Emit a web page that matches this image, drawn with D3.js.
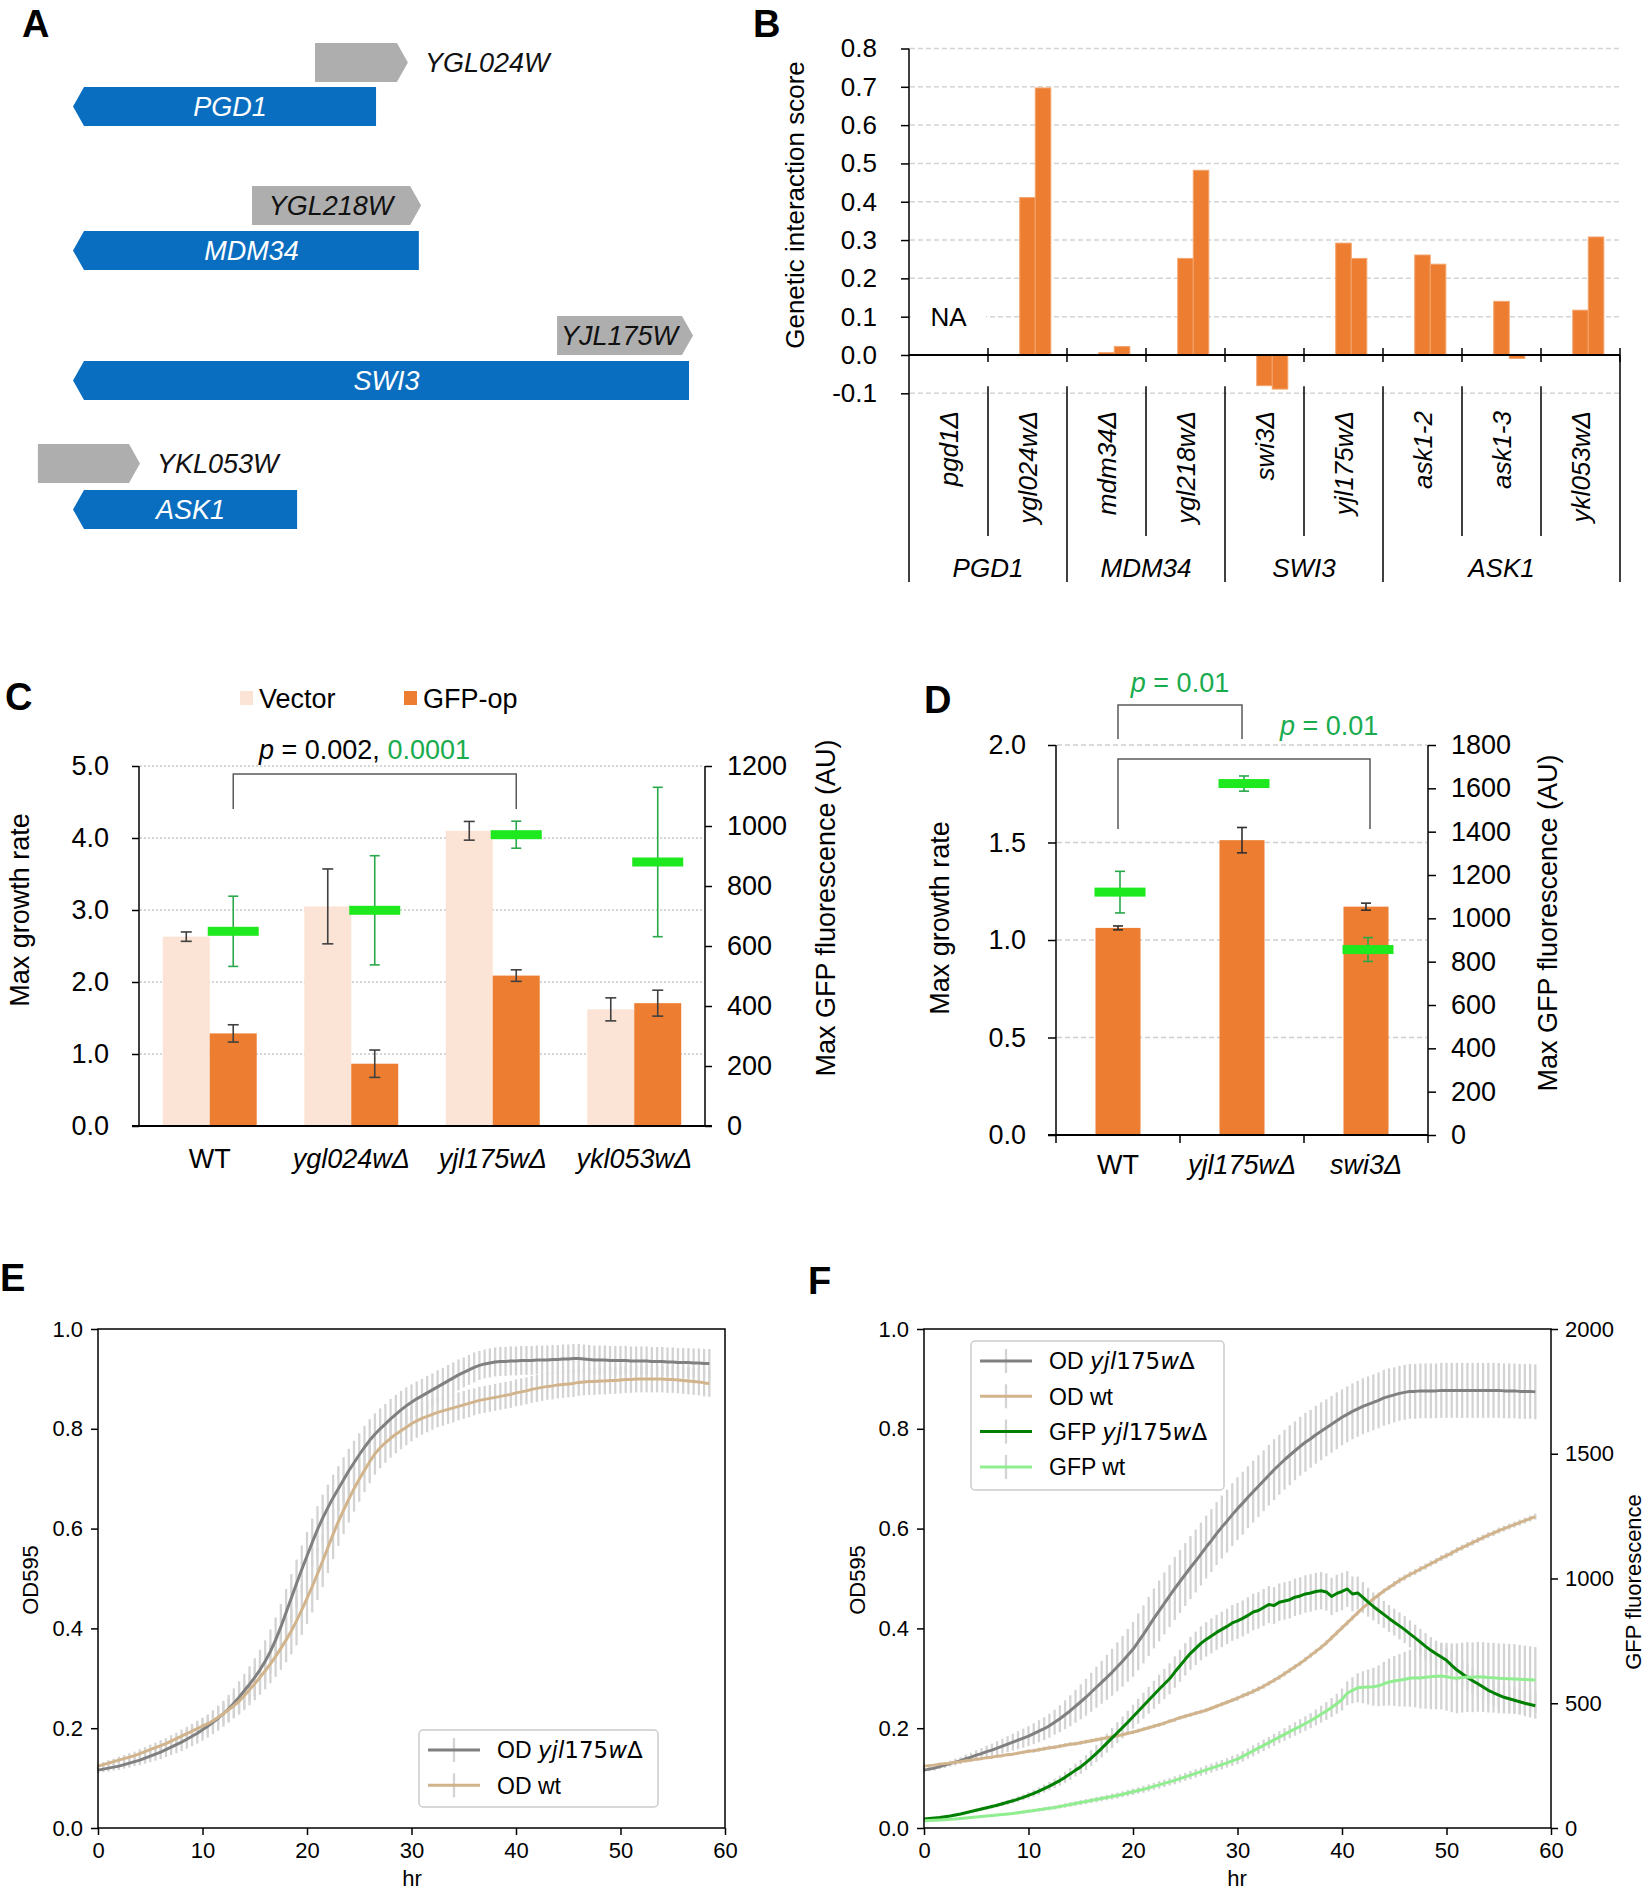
<!DOCTYPE html>
<html>
<head>
<meta charset="utf-8">
<title>YJL175W figure</title>
<script src="https://d3js.org/d3.v7.min.js"></script>
<style>
  body { margin: 0; background: #fff; }
  text { font-family: "Liberation Sans", Arial, Helvetica, sans-serif; }
  tspan.math { font-family: "DejaVu Sans", sans-serif; }
</style>
</head>
<body>
<div id="fig"></div>
<script>
// ---------- panel A : loci (kb from left end of locus) ----------
var locusGenes = ["PGD1", "MDM34", "SWI3", "ASK1"];
var locusStart = [0, 0, 0, 0];
var locusEnd = [1.217, 1.389, 2.474, 0.900];
var neighbourGenes = ["YGL024W", "YGL218W", "YJL175W", "YKL053W"];
var neighbourStart = [0.972, 0.719, 1.944, -0.141];
var neighbourEnd = [1.345, 1.398, 2.490, 0.269];

// ---------- panel B : genetic interaction scores ----------
var giMutants = ["pgd1Δ", "ygl024wΔ", "mdm34Δ", "ygl218wΔ", "swi3Δ", "yjl175wΔ", "ask1-2", "ask1-3", "ykl053wΔ"];
var giGroups = ["PGD1", "PGD1", "MDM34", "MDM34", "SWI3", "SWI3", "ASK1", "ASK1", "ASK1"];
var giScore1 = [null, 0.411, 0.006, 0.252, -0.080, 0.292, 0.261, 0.140, 0.117];
var giScore2 = [null, 0.697, 0.022, 0.482, -0.089, 0.252, 0.237, -0.009, 0.308];
var giTicks = [-0.1, 0.0, 0.1, 0.2, 0.3, 0.4, 0.5, 0.6, 0.7, 0.8];

// ---------- panel C ----------
var cStrains = ["WT", "ygl024wΔ", "yjl175wΔ", "ykl053wΔ"];
var cVector = [2.63, 3.05, 4.10, 1.62];
var cVectorErr = [0.065, 0.52, 0.13, 0.16];
var cGfpOp = [1.286, 0.865, 2.089, 1.706];
var cGfpOpErr = [0.12, 0.19, 0.08, 0.18];
var cFluor = [649, 719, 971, 880];
var cFluorErr = [117, 182, 45, 249];
var cGrowthTicks = [0, 1, 2, 3, 4, 5];
var cFluorTicks = [0, 200, 400, 600, 800, 1000, 1200];
var cP = ["0.002", "0.0001"];

// ---------- panel D ----------
var dStrains = ["WT", "yjl175wΔ", "swi3Δ"];
var dGrowth = [1.062, 1.512, 1.171];
var dGrowthErr = [0.010, 0.065, 0.018];
var dFluor = [1121, 1622, 856];
var dFluorErr = [96, 35, 55];
var dGrowthTicks = [0, 0.5, 1.0, 1.5, 2.0];
var dFluorTicks = [0, 200, 400, 600, 800, 1000, 1200, 1400, 1600, 1800];
var dP = ["0.01", "0.01"];

// ---------- panels E, F : growth curves (hours) ----------
var hours = [0,0.5,1,1.5,2,2.5,3,3.5,4,4.5,5,5.5,6,6.5,7,7.5,8,8.5,9,9.5,
  10,10.5,11,11.5,12,12.5,13,13.5,14,14.5,15,15.5,16,16.5,17,17.5,18,18.5,19,19.5,
  20,20.5,21,21.5,22,22.5,23,23.5,24,24.5,25,25.5,26,26.5,27,27.5,28,28.5,29,29.5,
  30,30.5,31,31.5,32,32.5,33,33.5,34,34.5,35,35.5,36,36.5,37,37.5,38,38.5,39,39.5,
  40,40.5,41,41.5,42,42.5,43,43.5,44,44.5,45,45.5,46,46.5,47,47.5,48,48.5,49,49.5,
  50,50.5,51,51.5,52,52.5,53,53.5,54,54.5,55,55.5,56,56.5,57,57.5,58,58.5];
var hourTicks = [0, 10, 20, 30, 40, 50, 60];
var odTicks = [0, 0.2, 0.4, 0.6, 0.8, 1.0];
var gfpTicks = [0, 500, 1000, 1500, 2000];

var odYjlE = [0.116,0.118,0.120,0.122,0.124,0.127,0.130,0.133,0.136,0.140,
  0.144,0.148,0.152,0.157,0.162,0.167,0.172,0.178,0.184,0.190,
  0.197,0.204,0.212,0.220,0.229,0.239,0.250,0.262,0.275,0.288,
  0.302,0.317,0.334,0.354,0.377,0.403,0.432,0.461,0.490,0.518,
  0.545,0.572,0.598,0.621,0.642,0.662,0.680,0.698,0.716,0.732,
  0.748,0.763,0.777,0.789,0.800,0.810,0.820,0.829,0.838,0.846,
  0.853,0.860,0.866,0.872,0.878,0.884,0.890,0.896,0.902,0.908,
  0.913,0.918,0.923,0.927,0.930,0.932,0.934,0.935,0.935,0.936,
  0.936,0.937,0.937,0.937,0.938,0.938,0.938,0.939,0.939,0.940,
  0.940,0.941,0.941,0.940,0.939,0.938,0.938,0.938,0.937,0.937,
  0.937,0.937,0.936,0.936,0.936,0.936,0.935,0.935,0.935,0.934,
  0.934,0.933,0.933,0.933,0.932,0.932,0.931,0.931];
var odYjlEErr = [0.006,0.006,0.007,0.007,0.008,0.008,0.009,0.009,0.010,0.011,
  0.012,0.013,0.014,0.015,0.016,0.017,0.018,0.019,0.020,0.021,
  0.022,0.023,0.024,0.025,0.026,0.028,0.030,0.032,0.034,0.036,
  0.038,0.040,0.042,0.044,0.045,0.046,0.047,0.048,0.048,0.048,
  0.048,0.048,0.047,0.047,0.046,0.046,0.045,0.045,0.044,0.044,
  0.043,0.043,0.042,0.042,0.041,0.040,0.040,0.039,0.038,0.037,
  0.036,0.035,0.034,0.034,0.033,0.033,0.032,0.032,0.031,0.031,
  0.030,0.030,0.030,0.029,0.029,0.029,0.029,0.029,0.029,0.029,
  0.029,0.029,0.029,0.029,0.029,0.029,0.029,0.029,0.029,0.029,
  0.029,0.029,0.029,0.029,0.029,0.029,0.029,0.029,0.029,0.029,
  0.029,0.029,0.029,0.029,0.029,0.029,0.029,0.029,0.029,0.029,
  0.029,0.029,0.029,0.029,0.029,0.029,0.029,0.029];
var odWtE = [0.124,0.127,0.130,0.133,0.136,0.139,0.142,0.145,0.149,0.153,
  0.157,0.161,0.165,0.169,0.174,0.179,0.184,0.189,0.194,0.199,
  0.204,0.209,0.215,0.222,0.229,0.237,0.245,0.254,0.265,0.277,
  0.289,0.302,0.315,0.329,0.344,0.360,0.377,0.395,0.415,0.437,
  0.460,0.484,0.509,0.535,0.562,0.589,0.614,0.637,0.659,0.680,
  0.699,0.717,0.734,0.750,0.762,0.772,0.781,0.789,0.796,0.803,
  0.810,0.816,0.821,0.825,0.829,0.833,0.836,0.839,0.842,0.845,
  0.848,0.851,0.854,0.857,0.859,0.861,0.863,0.865,0.867,0.869,
  0.872,0.874,0.876,0.879,0.881,0.883,0.885,0.886,0.888,0.889,
  0.890,0.891,0.893,0.894,0.895,0.895,0.896,0.896,0.897,0.897,
  0.898,0.899,0.899,0.900,0.900,0.900,0.900,0.900,0.900,0.899,
  0.899,0.898,0.897,0.896,0.895,0.894,0.892,0.891];
var odWtEErr = [0.005,0.005,0.006,0.006,0.007,0.007,0.008,0.008,0.009,0.009,
  0.010,0.010,0.011,0.011,0.012,0.012,0.013,0.014,0.015,0.016,
  0.017,0.018,0.019,0.020,0.021,0.023,0.025,0.027,0.029,0.031,
  0.033,0.035,0.037,0.039,0.041,0.043,0.045,0.047,0.049,0.050,
  0.051,0.052,0.052,0.052,0.051,0.050,0.049,0.048,0.047,0.046,
  0.045,0.044,0.043,0.042,0.041,0.040,0.039,0.038,0.037,0.036,
  0.035,0.034,0.033,0.032,0.031,0.030,0.030,0.029,0.029,0.028,
  0.028,0.028,0.027,0.027,0.027,0.027,0.027,0.027,0.027,0.027,
  0.027,0.027,0.027,0.027,0.027,0.027,0.027,0.027,0.027,0.027,
  0.027,0.027,0.027,0.027,0.027,0.027,0.027,0.027,0.027,0.027,
  0.027,0.027,0.027,0.027,0.027,0.027,0.027,0.027,0.027,0.027,
  0.027,0.027,0.027,0.027,0.027,0.027,0.027,0.027];

var odYjlF = [0.116,0.118,0.120,0.123,0.126,0.129,0.132,0.135,0.139,0.142,
  0.146,0.149,0.153,0.156,0.160,0.164,0.168,0.172,0.176,0.180,
  0.184,0.189,0.194,0.199,0.205,0.212,0.219,0.227,0.235,0.244,
  0.253,0.262,0.272,0.282,0.292,0.302,0.312,0.323,0.334,0.346,
  0.358,0.373,0.388,0.404,0.420,0.435,0.450,0.465,0.480,0.494,
  0.508,0.522,0.535,0.549,0.563,0.576,0.590,0.603,0.615,0.628,
  0.640,0.651,0.663,0.674,0.685,0.696,0.707,0.718,0.728,0.738,
  0.747,0.756,0.765,0.773,0.780,0.788,0.795,0.802,0.809,0.816,
  0.823,0.829,0.835,0.840,0.845,0.849,0.853,0.857,0.862,0.865,
  0.868,0.871,0.873,0.875,0.875,0.876,0.876,0.876,0.876,0.877,
  0.877,0.877,0.877,0.877,0.877,0.877,0.877,0.877,0.877,0.877,
  0.877,0.876,0.876,0.876,0.875,0.875,0.875,0.874];
var odYjlFErr = [0.004,0.004,0.005,0.005,0.006,0.006,0.007,0.007,0.008,0.009,
  0.010,0.011,0.012,0.013,0.014,0.015,0.016,0.017,0.018,0.019,
  0.020,0.021,0.022,0.023,0.024,0.025,0.027,0.029,0.031,0.033,
  0.035,0.037,0.039,0.041,0.043,0.045,0.047,0.049,0.051,0.053,
  0.055,0.057,0.058,0.059,0.060,0.061,0.062,0.062,0.063,0.063,
  0.063,0.063,0.063,0.063,0.063,0.063,0.063,0.063,0.063,0.063,
  0.063,0.063,0.062,0.062,0.062,0.061,0.061,0.061,0.060,0.060,
  0.060,0.059,0.059,0.059,0.058,0.058,0.058,0.057,0.057,0.057,
  0.056,0.056,0.056,0.056,0.056,0.056,0.056,0.056,0.056,0.056,
  0.055,0.055,0.055,0.055,0.055,0.055,0.055,0.055,0.055,0.055,
  0.055,0.055,0.055,0.055,0.055,0.055,0.055,0.055,0.055,0.055,
  0.055,0.055,0.055,0.055,0.055,0.055,0.055,0.055];
var odWtF = [0.124,0.125,0.126,0.128,0.129,0.130,0.132,0.133,0.135,0.136,
  0.138,0.139,0.141,0.142,0.144,0.145,0.147,0.148,0.150,0.152,
  0.154,0.155,0.157,0.159,0.161,0.162,0.164,0.166,0.168,0.169,
  0.171,0.173,0.175,0.177,0.179,0.181,0.183,0.185,0.187,0.190,
  0.192,0.195,0.198,0.201,0.204,0.207,0.210,0.214,0.217,0.221,
  0.224,0.227,0.230,0.233,0.236,0.240,0.244,0.248,0.252,0.256,
  0.260,0.265,0.269,0.274,0.279,0.284,0.290,0.296,0.302,0.309,
  0.316,0.323,0.330,0.338,0.346,0.354,0.362,0.371,0.381,0.391,
  0.401,0.411,0.421,0.431,0.441,0.450,0.459,0.467,0.475,0.482,
  0.489,0.496,0.502,0.508,0.513,0.519,0.524,0.530,0.535,0.541,
  0.546,0.551,0.557,0.562,0.567,0.572,0.577,0.582,0.587,0.591,
  0.596,0.600,0.604,0.608,0.612,0.616,0.620,0.624];
var odWtFErr = [0.003,0.003,0.003,0.003,0.003,0.003,0.003,0.003,0.003,0.003,
  0.003,0.003,0.003,0.003,0.003,0.003,0.003,0.003,0.003,0.003,
  0.004,0.004,0.004,0.004,0.004,0.004,0.004,0.004,0.004,0.004,
  0.004,0.004,0.004,0.004,0.004,0.004,0.004,0.004,0.004,0.004,
  0.004,0.004,0.004,0.004,0.004,0.004,0.004,0.004,0.004,0.004,
  0.004,0.004,0.004,0.004,0.004,0.004,0.004,0.004,0.004,0.004,
  0.005,0.005,0.005,0.005,0.005,0.005,0.005,0.005,0.005,0.005,
  0.005,0.005,0.005,0.005,0.005,0.005,0.005,0.005,0.005,0.005,
  0.005,0.005,0.005,0.005,0.005,0.005,0.005,0.005,0.005,0.005,
  0.006,0.006,0.006,0.006,0.006,0.006,0.006,0.006,0.006,0.006,
  0.006,0.006,0.006,0.006,0.006,0.006,0.006,0.006,0.006,0.006,
  0.006,0.006,0.006,0.006,0.006,0.006,0.006,0.006];
var gfpYjlF = [36,38,40,42,45,48,52,56,61,66,
  71,76,81,86,91,97,103,109,116,123,
  131,139,148,158,168,179,190,203,217,232,
  245,262,280,299,319,340,361,382,403,424,
  446,468,490,512,534,556,577,598,625,650,
  676,700,720,740,756,770,784,796,808,822,
  830,840,852,866,872,884,896,892,905,910,
  915,925,930,938,942,948,951,946,928,940,
  948,958,938,942,924,905,888,872,856,840,
  825,810,795,778,762,745,728,712,698,685,
  672,652,633,618,603,590,578,565,552,542,
  533,524,518,512,506,500,495,490];
var gfpYjlFErr = [3,3,3,4,4,4,5,5,5,6,
  6,7,7,8,8,9,10,10,11,12,
  13,14,15,16,17,18,20,22,24,26,
  28,30,32,34,36,38,40,42,44,46,
  48,50,52,54,56,58,60,62,63,64,
  65,66,67,68,69,70,70,71,71,72,
  72,72,73,73,73,74,74,74,75,75,
  75,75,75,75,75,75,75,75,75,75,
  75,72,70,66,62,58,56,55,54,54,
  54,54,54,54,53,53,53,53,53,53,
  52,52,52,52,52,52,52,52,52,52,
  52,52,52,52,52,52,52,52];
var gfpWtF = [29,30,31,32,33,35,36,38,40,42,
  44,46,48,50,52,54,56,58,61,64,
  67,70,73,76,79,82,86,90,94,98,
  102,106,110,114,118,122,126,130,135,140,
  145,150,155,161,167,173,179,185,191,198,
  205,212,219,226,233,240,247,254,261,269,
  276,287,298,309,320,331,342,353,364,375,
  386,397,408,419,430,443,456,469,483,498,
  515,540,552,562,564,565,566,570,578,585,
  589,592,596,600,602,601,604,606,608,609,
  606,602,600,603,605,604,606,605,603,602,
  600,599,598,597,596,595,594,593];
var gfpWtFErr = [2,2,2,2,3,3,3,3,3,4,
  4,4,4,5,5,5,5,6,6,6,
  6,7,7,7,8,8,8,9,9,9,
  10,10,10,11,11,11,12,12,12,13,
  13,13,14,14,14,15,15,15,16,16,
  16,17,17,17,18,18,18,19,19,20,
  20,21,21,22,22,23,23,24,24,25,
  26,27,28,29,30,32,34,36,38,40,
  44,48,52,58,64,70,76,82,88,94,
  100,105,110,114,118,122,126,130,132,134,
  136,138,140,140,140,140,140,140,140,140,
  140,140,140,140,138,136,134,132];

// ---------- colours ----------
var blueGene = "#0a6ec0", greyGene = "#aeaeae";
var orange = "#ed7d31", peach = "#fbe4d5";
var markGreen = "#1ee81e", errGreen = "#2aa84a", pGreen = "#1aab4e";
var fmt1 = function (d) { return d.toFixed(1); };
var fmtInt = function (d) { return String(d); };

var svg = d3.select("#fig").append("svg")
  .attr("width", 1645).attr("height", 1891)
  .style("background", "#fff");

function letter(x, y, s) {
  svg.append("text").attr("x", x).attr("y", y)
    .attr("font-size", 38).attr("font-weight", "bold").text(s);
}
function styleAxis(g, size) {
  g.attr("font-family", null);
  g.select(".domain").remove();
  g.selectAll(".tick line").attr("stroke", "#000").attr("stroke-width", 1.5);
  g.selectAll(".tick text").attr("font-size", size).attr("fill", "#000");
}
function vLabel(g, x, y, s, size) {
  g.append("text").attr("transform", "translate(" + x + "," + y + ") rotate(-90)")
    .attr("text-anchor", "middle").attr("dy", "0.35em")
    .attr("font-size", size).text(s);
}
function isGene(s) { return s !== "WT"; }
// matplotlib mathtext style: letters italic, digits and Δ upright
function mathParts(s) {
  var i = s.indexOf(" ");
  var pre = s.slice(0, i + 1), gene = s.slice(i + 1);
  if (!/\d/.test(gene)) return [[s, false, false]];
  var out = [[pre, false, false]];
  gene.split("").forEach(function (ch) { out.push([ch, /[a-z]/.test(ch), true]); });
  return out;
}

// ================= A =================
letter(22, 37, "A");
var gA = svg.append("g");
var xA = d3.scaleLinear().domain([0, 2.5]).range([73, 695.5]);
var greyTop = [43, 186, 316, 444];
var blueTop = [87, 231, 361, 490];
var arrowH = 39, tip = 11;

locusGenes.forEach(function (name, i) {
  var x0 = xA(locusStart[i]), x1 = xA(locusEnd[i]), y0 = blueTop[i], y1 = y0 + arrowH;
  gA.append("path")
    .attr("d", d3.line()([[x0, (y0 + y1) / 2], [x0 + tip, y0], [x1, y0], [x1, y1], [x0 + tip, y1]]) + "Z")
    .attr("fill", blueGene);
  gA.append("text").attr("x", (x0 + tip + x1) / 2).attr("y", (y0 + y1) / 2).attr("dy", "0.36em")
    .attr("text-anchor", "middle").attr("font-size", 27).attr("font-style", "italic")
    .attr("fill", "#fff").text(name);

  var n0 = xA(neighbourStart[i]), n1 = xA(neighbourEnd[i]), t0 = greyTop[i], t1 = t0 + arrowH;
  gA.append("path")
    .attr("d", d3.line()([[n0, t0], [n1 - tip, t0], [n1, (t0 + t1) / 2], [n1 - tip, t1], [n0, t1]]) + "Z")
    .attr("fill", greyGene);
  var lab = gA.append("text").attr("y", (t0 + t1) / 2).attr("dy", "0.36em")
    .attr("font-size", 27).attr("font-style", "italic").attr("fill", "#111")
    .text(neighbourGenes[i]);
  var w = lab.node().getComputedTextLength();
  if (w + 6 < n1 - tip - n0) {
    lab.attr("x", (n0 + n1 - tip) / 2).attr("text-anchor", "middle");
  } else {
    lab.attr("x", n1 + 17);
  }
});

// ================= B =================
letter(753, 37, "B");
var gB = svg.append("g");
var xB = d3.scaleBand().domain(giMutants).range([909, 1620]).paddingInner(0.41).paddingOuter(0.205);
var xB1 = d3.scaleBand().domain([0, 1, 2]).range([0, xB.bandwidth()]);
var yB = d3.scaleLinear().domain([-0.1, 0.8]).range([393.3, 48.5]);
var bBottom = 582, bLabelTop = 411;
function bCentre(m) { return xB(m) + xB.bandwidth() / 2; }

giTicks.forEach(function (t) {
  if (t === 0) return;
  gB.append("line").attr("x1", 910).attr("x2", 1620).attr("y1", yB(t)).attr("y2", yB(t))
    .attr("stroke", "#d4d4d4").attr("stroke-width", 1.5).attr("stroke-dasharray", "5,3");
});

var axB = gB.append("g").attr("transform", "translate(909,0)")
  .call(d3.axisLeft(yB).tickValues(giTicks).tickSize(8).tickPadding(24).tickFormat(fmt1));
styleAxis(axB, 26);

[giScore1, giScore2].forEach(function (series, k) {
  gB.selectAll(null).data(giMutants.filter(function (m, i) { return series[i] !== null; }))
    .join("rect")
    .attr("x", function (m) { return xB(m) + xB1(k + 1); })
    .attr("width", xB1.bandwidth())
    .attr("y", function (m) { return yB(Math.max(0, series[giMutants.indexOf(m)])); })
    .attr("height", function (m) { return Math.abs(yB(series[giMutants.indexOf(m)]) - yB(0)); })
    .attr("fill", orange).attr("stroke", "#f3a46c").attr("stroke-width", 1);
});

// NA for missing scores
giMutants.forEach(function (m, i) {
  if (giScore1[i] !== null) return;
  gB.append("rect").attr("x", bCentre(m) - xB.step() / 2 + 2).attr("width", xB.step() - 4)
    .attr("y", yB(0.1) - 4).attr("height", 8).attr("fill", "#fff");
  gB.append("text").attr("x", bCentre(m)).attr("y", yB(0.1)).attr("dy", "0.36em")
    .attr("text-anchor", "middle").attr("font-size", 26).text("NA");
});

gB.append("line").attr("x1", 909).attr("x2", 909).attr("y1", yB(0.8)).attr("y2", bBottom)
  .attr("stroke", "#000").attr("stroke-width", 1.5);
gB.append("line").attr("x1", 909).attr("x2", 1620).attr("y1", yB(0)).attr("y2", yB(0))
  .attr("stroke", "#000").attr("stroke-width", 2);
giMutants.forEach(function (m, i) {
  var bx = bCentre(m) + xB.step() / 2;
  gB.append("line").attr("x1", bx).attr("x2", bx).attr("y1", yB(0) - 7).attr("y2", yB(0) + 7)
    .attr("stroke", "#000").attr("stroke-width", 1.5);
  var last = i === giMutants.length - 1;
  var groupEnd = last || giGroups[i + 1] !== giGroups[i];
  gB.append("line").attr("x1", bx).attr("x2", bx)
    .attr("y1", last ? yB(0) : yB(-0.1) - 7).attr("y2", groupEnd ? bBottom : 536)
    .attr("stroke", "#000").attr("stroke-width", 1.5);
  gB.append("text")
    .attr("transform", "translate(" + bCentre(m) + "," + bLabelTop + ") rotate(-90)")
    .attr("text-anchor", "end").attr("dy", "0.36em").attr("font-size", 26)
    .attr("font-style", "italic").text(m);
});
Array.from(new Set(giGroups)).forEach(function (grp) {
  var members = giMutants.filter(function (m, i) { return giGroups[i] === grp; });
  var cx = (bCentre(members[0]) + bCentre(members[members.length - 1])) / 2;
  gB.append("text").attr("x", cx).attr("y", 568).attr("dy", "0.36em")
    .attr("text-anchor", "middle").attr("font-size", 26).attr("font-style", "italic").text(grp);
});
vLabel(gB, 795, 205, "Genetic interaction score", 26);

// ================= C =================
letter(5, 710, "C");
var gC = svg.append("g");
var xC = d3.scaleBand().domain(cStrains).range([139, 705]).paddingInner(0.336).paddingOuter(0.168);
var xC1 = d3.scaleBand().domain(["Vector", "GFP-op"]).range([0, xC.bandwidth()]);
var yC = d3.scaleLinear().domain([0, 5]).range([1126, 766]);
var yC2 = d3.scaleLinear().domain([0, 1200]).range([1126, 766]);

cGrowthTicks.forEach(function (t) {
  if (t === 0) return;
  gC.append("line").attr("x1", 140).attr("x2", 704).attr("y1", yC(t)).attr("y2", yC(t))
    .attr("stroke", "#c9c9c9").attr("stroke-width", 1.5).attr("stroke-dasharray", "2,2");
});
var axC = gC.append("g").attr("transform", "translate(139,0)")
  .call(d3.axisLeft(yC).tickValues(cGrowthTicks).tickSize(7).tickPadding(23).tickFormat(fmt1));
styleAxis(axC, 27);
var axC2 = gC.append("g").attr("transform", "translate(705,0)")
  .call(d3.axisRight(yC2).tickValues(cFluorTicks).tickSize(7).tickPadding(15).tickFormat(fmtInt));
styleAxis(axC2, 27);

function cX(s, series) { return xC(s) + xC1(series) + xC1.bandwidth() / 2; }
function errBar(g, x, lo, hi, cap, colour) {
  g.append("line").attr("x1", x).attr("x2", x).attr("y1", lo).attr("y2", hi)
    .attr("stroke", colour).attr("stroke-width", 1.6);
  [lo, hi].forEach(function (yy) {
    g.append("line").attr("x1", x - cap / 2).attr("x2", x + cap / 2).attr("y1", yy).attr("y2", yy)
      .attr("stroke", colour).attr("stroke-width", 1.6);
  });
}
gC.selectAll(null).data(cStrains).join("rect")
  .attr("x", function (s) { return xC(s) + xC1("Vector"); }).attr("width", xC1.bandwidth())
  .attr("y", function (s, i) { return yC(cVector[i]); })
  .attr("height", function (s, i) { return yC(0) - yC(cVector[i]); })
  .attr("fill", peach);
gC.selectAll(null).data(cStrains).join("rect")
  .attr("x", function (s) { return xC(s) + xC1("GFP-op"); }).attr("width", xC1.bandwidth())
  .attr("y", function (s, i) { return yC(cGfpOp[i]); })
  .attr("height", function (s, i) { return yC(0) - yC(cGfpOp[i]); })
  .attr("fill", orange);
cStrains.forEach(function (s, i) {
  errBar(gC, cX(s, "Vector"), yC(cVector[i] - cVectorErr[i]), yC(cVector[i] + cVectorErr[i]), 11, "#404040");
  errBar(gC, cX(s, "GFP-op"), yC(cGfpOp[i] - cGfpOpErr[i]), yC(cGfpOp[i] + cGfpOpErr[i]), 11, "#404040");
  errBar(gC, cX(s, "GFP-op"), yC2(cFluor[i] - cFluorErr[i]), yC2(cFluor[i] + cFluorErr[i]), 10, errGreen);
  gC.append("rect").attr("x", cX(s, "GFP-op") - 25.5).attr("width", 51)
    .attr("y", yC2(cFluor[i]) - 4.5).attr("height", 9).attr("fill", markGreen);
});
gC.append("line").attr("x1", 132).attr("x2", 712).attr("y1", 1126).attr("y2", 1126)
  .attr("stroke", "#000").attr("stroke-width", 2);
[139, 705].forEach(function (ax) {
  gC.append("line").attr("x1", ax).attr("x2", ax).attr("y1", 766).attr("y2", 1126)
    .attr("stroke", "#000").attr("stroke-width", 1.5);
});
cStrains.forEach(function (s) {
  gC.append("text").attr("x", xC(s) + xC.bandwidth() / 2).attr("y", 1158).attr("dy", "0.36em")
    .attr("text-anchor", "middle").attr("font-size", 27)
    .attr("font-style", isGene(s) ? "italic" : null).text(s);
});
// bracket WT vs yjl175wΔ
var cb0 = cX("WT", "GFP-op"), cb1 = cX("yjl175wΔ", "GFP-op");
gC.append("path").attr("d", d3.line()([[cb0, 809], [cb0, 774], [cb1, 774], [cb1, 809]]))
  .attr("fill", "none").attr("stroke", "#5a5a5a").attr("stroke-width", 1.5);
var pC = gC.append("text").attr("x", 259).attr("y", 749).attr("dy", "0.36em").attr("font-size", 27);
pC.append("tspan").attr("font-style", "italic").text("p");
pC.append("tspan").text(" = " + cP[0] + ", ");
pC.append("tspan").attr("fill", pGreen).text(cP[1]);
// legend
[["Vector", peach, 240], ["GFP-op", orange, 404]].forEach(function (l) {
  gC.append("rect").attr("x", l[2]).attr("y", 691).attr("width", 13).attr("height", 14).attr("fill", l[1]);
  gC.append("text").attr("x", l[2] + 19).attr("y", 698).attr("dy", "0.36em").attr("font-size", 27).text(l[0]);
});
vLabel(gC, 20, 910, "Max growth rate", 27);
vLabel(gC, 826, 908, "Max GFP fluorescence (AU)", 27);

// ================= D =================
letter(924, 713, "D");
var gD = svg.append("g");
var xD = d3.scaleBand().domain(dStrains).range([1056, 1428]).paddingInner(0.637).paddingOuter(0.3185);
var yD = d3.scaleLinear().domain([0, 2]).range([1135, 745]);
var yD2 = d3.scaleLinear().domain([0, 1800]).range([1135, 745]);
function dX(s) { return xD(s) + xD.bandwidth() / 2; }

dGrowthTicks.forEach(function (t) {
  if (t === 0) return;
  gD.append("line").attr("x1", 1057).attr("x2", 1427).attr("y1", yD(t)).attr("y2", yD(t))
    .attr("stroke", "#cfcfcf").attr("stroke-width", 1.5).attr("stroke-dasharray", "5,3");
});
var axD = gD.append("g").attr("transform", "translate(1056,0)")
  .call(d3.axisLeft(yD).tickValues(dGrowthTicks).tickSize(8).tickPadding(22).tickFormat(fmt1));
styleAxis(axD, 27);
var axD2 = gD.append("g").attr("transform", "translate(1428,0)")
  .call(d3.axisRight(yD2).tickValues(dFluorTicks).tickSize(8).tickPadding(15).tickFormat(fmtInt));
styleAxis(axD2, 27);

gD.selectAll(null).data(dStrains).join("rect")
  .attr("x", function (s) { return xD(s); }).attr("width", xD.bandwidth())
  .attr("y", function (s, i) { return yD(dGrowth[i]); })
  .attr("height", function (s, i) { return yD(0) - yD(dGrowth[i]); })
  .attr("fill", orange);
dStrains.forEach(function (s, i) {
  errBar(gD, dX(s), yD(dGrowth[i] - dGrowthErr[i]), yD(dGrowth[i] + dGrowthErr[i]), 10, "#303030");
  errBar(gD, dX(s) + 2, yD2(dFluor[i] - dFluorErr[i]), yD2(dFluor[i] + dFluorErr[i]), 10, errGreen);
  gD.append("rect").attr("x", dX(s) + 2 - 25.5).attr("width", 51)
    .attr("y", yD2(dFluor[i]) - 4.5).attr("height", 9).attr("fill", markGreen);
  gD.append("text").attr("x", dX(s)).attr("y", 1164).attr("dy", "0.36em")
    .attr("text-anchor", "middle").attr("font-size", 27)
    .attr("font-style", isGene(s) ? "italic" : null).text(s);
});
gD.append("line").attr("x1", 1048).attr("x2", 1428).attr("y1", 1135).attr("y2", 1135)
  .attr("stroke", "#000").attr("stroke-width", 2);
[1056, 1428].forEach(function (ax) {
  gD.append("line").attr("x1", ax).attr("x2", ax).attr("y1", 745).attr("y2", 1135)
    .attr("stroke", "#000").attr("stroke-width", 1.5);
});
dStrains.concat([null]).forEach(function (s, i) {
  var bx = 1056 + i * xD.step();
  gD.append("line").attr("x1", bx).attr("x2", bx).attr("y1", 1135).attr("y2", 1143)
    .attr("stroke", "#000").attr("stroke-width", 1.5);
});
var db0 = dX("WT"), db1 = dX("yjl175wΔ"), db2 = dX("swi3Δ") + 4;
gD.append("path").attr("d", d3.line()([[db0, 739], [db0, 705], [db1, 705], [db1, 739]]))
  .attr("fill", "none").attr("stroke", "#5a5a5a").attr("stroke-width", 1.5);
gD.append("path").attr("d", d3.line()([[db0, 829], [db0, 759], [db2, 759], [db2, 829]]))
  .attr("fill", "none").attr("stroke", "#5a5a5a").attr("stroke-width", 1.5);
[[(db0 + db1) / 2, 682, "middle"], [1280, 725, "start"]].forEach(function (p, k) {
  var t = gD.append("text").attr("x", p[0]).attr("y", p[1]).attr("dy", "0.36em")
    .attr("text-anchor", p[2]).attr("font-size", 27).attr("fill", pGreen);
  t.append("tspan").attr("font-style", "italic").text("p");
  t.append("tspan").text(" = " + dP[k]);
});
vLabel(gD, 940, 918, "Max growth rate", 27);
vLabel(gD, 1548, 923, "Max GFP fluorescence (AU)", 27);

// ================= E, F =================
function growthPanel(x, yL, seriesList, legend) {
  var g = svg.append("g");
  var x0 = x.range()[0], x1 = x.range()[1], yb = yL.range()[0], yt = yL.range()[1];
  seriesList.forEach(function (s) {
    g.append("g").selectAll("line").data(hours).join("line")
      .attr("x1", function (h) { return x(h); }).attr("x2", function (h) { return x(h); })
      .attr("y1", function (h, i) { return s.y(s.v[i] - s.e[i]); })
      .attr("y2", function (h, i) { return s.y(s.v[i] + s.e[i]); })
      .attr("stroke", "#d3d3d3").attr("stroke-width", 2.3);
  });
  seriesList.forEach(function (s) {
    g.append("path").datum(hours)
      .attr("d", d3.line().x(function (h) { return x(h); }).y(function (h, i) { return s.y(s.v[i]); }))
      .attr("fill", "none").attr("stroke", s.c).attr("stroke-width", 3).attr("stroke-linejoin", "round");
  });
  g.append("rect").attr("x", x0).attr("y", yt).attr("width", x1 - x0).attr("height", yb - yt)
    .attr("fill", "none").attr("stroke", "#000").attr("stroke-width", 1.5);
  var ax = g.append("g").attr("transform", "translate(0," + yb + ")")
    .call(d3.axisBottom(x).tickValues(hourTicks).tickSize(7).tickPadding(7));
  styleAxis(ax, 22);
  var ay = g.append("g").attr("transform", "translate(" + x0 + ",0)")
    .call(d3.axisLeft(yL).tickValues(odTicks).tickSize(7).tickPadding(8).tickFormat(fmt1));
  styleAxis(ay, 22);
  // legend
  var lg = g.append("g");
  lg.append("rect").attr("x", legend.x).attr("y", legend.y).attr("width", legend.w).attr("height", legend.h)
    .attr("rx", 4).attr("fill", "#fff").attr("fill-opacity", 0.8)
    .attr("stroke", "#cccccc").attr("stroke-width", 1.5);
  seriesList.forEach(function (s, i) {
    var ly = legend.y + 20 + i * 35.3, lx = legend.x + 9;
    lg.append("line").attr("x1", lx + 26).attr("x2", lx + 26).attr("y1", ly - 12).attr("y2", ly + 12)
      .attr("stroke", "#d3d3d3").attr("stroke-width", 2.3);
    lg.append("line").attr("x1", lx).attr("x2", lx + 52).attr("y1", ly).attr("y2", ly)
      .attr("stroke", s.c).attr("stroke-width", 3);
    var t = lg.append("text").attr("x", lx + 69).attr("y", ly).attr("dy", "0.36em").attr("font-size", 23);
    mathParts(s.name).forEach(function (p) {
      t.append("tspan").attr("class", p[2] ? "math" : null)
        .attr("font-style", p[1] ? "italic" : null).text(p[0]);
    });
  });
  return g;
}

letter(0, 1291, "E");
var xE = d3.scaleLinear().domain([0, 60]).range([98, 725]);
var yE = d3.scaleLinear().domain([0, 1]).range([1828, 1329]);
var gE = growthPanel(xE, yE, [
  { name: "OD yjl175wΔ", v: odYjlE, e: odYjlEErr, c: "#808080", y: yE },
  { name: "OD wt", v: odWtE, e: odWtEErr, c: "#d2b48c", y: yE }
], { x: 419, y: 1730, w: 239, h: 77 });
vLabel(gE, 30, 1580, "OD595", 22);
gE.append("text").attr("x", 412).attr("y", 1878).attr("dy", "0.36em")
  .attr("text-anchor", "middle").attr("font-size", 22).text("hr");

letter(808, 1294, "F");
var xF = d3.scaleLinear().domain([0, 60]).range([924, 1551]);
var yF = d3.scaleLinear().domain([0, 1]).range([1828, 1329]);
var yF2 = d3.scaleLinear().domain([0, 2000]).range([1828, 1329]);
var gF = growthPanel(xF, yF, [
  { name: "OD yjl175wΔ", v: odYjlF, e: odYjlFErr, c: "#808080", y: yF },
  { name: "OD wt", v: odWtF, e: odWtFErr, c: "#d2b48c", y: yF },
  { name: "GFP yjl175wΔ", v: gfpYjlF, e: gfpYjlFErr, c: "#008000", y: yF2 },
  { name: "GFP wt", v: gfpWtF, e: gfpWtFErr, c: "#90ee90", y: yF2 }
], { x: 971, y: 1341, w: 253, h: 149 });
var axF2 = gF.append("g").attr("transform", "translate(1551,0)")
  .call(d3.axisRight(yF2).tickValues(gfpTicks).tickSize(7).tickPadding(7).tickFormat(fmtInt));
styleAxis(axF2, 22);
vLabel(gF, 857, 1580, "OD595", 22);
vLabel(gF, 1633, 1582, "GFP fluorescence", 22);
gF.append("text").attr("x", 1237).attr("y", 1878).attr("dy", "0.36em")
  .attr("text-anchor", "middle").attr("font-size", 22).text("hr");
</script>
</body>
</html>
